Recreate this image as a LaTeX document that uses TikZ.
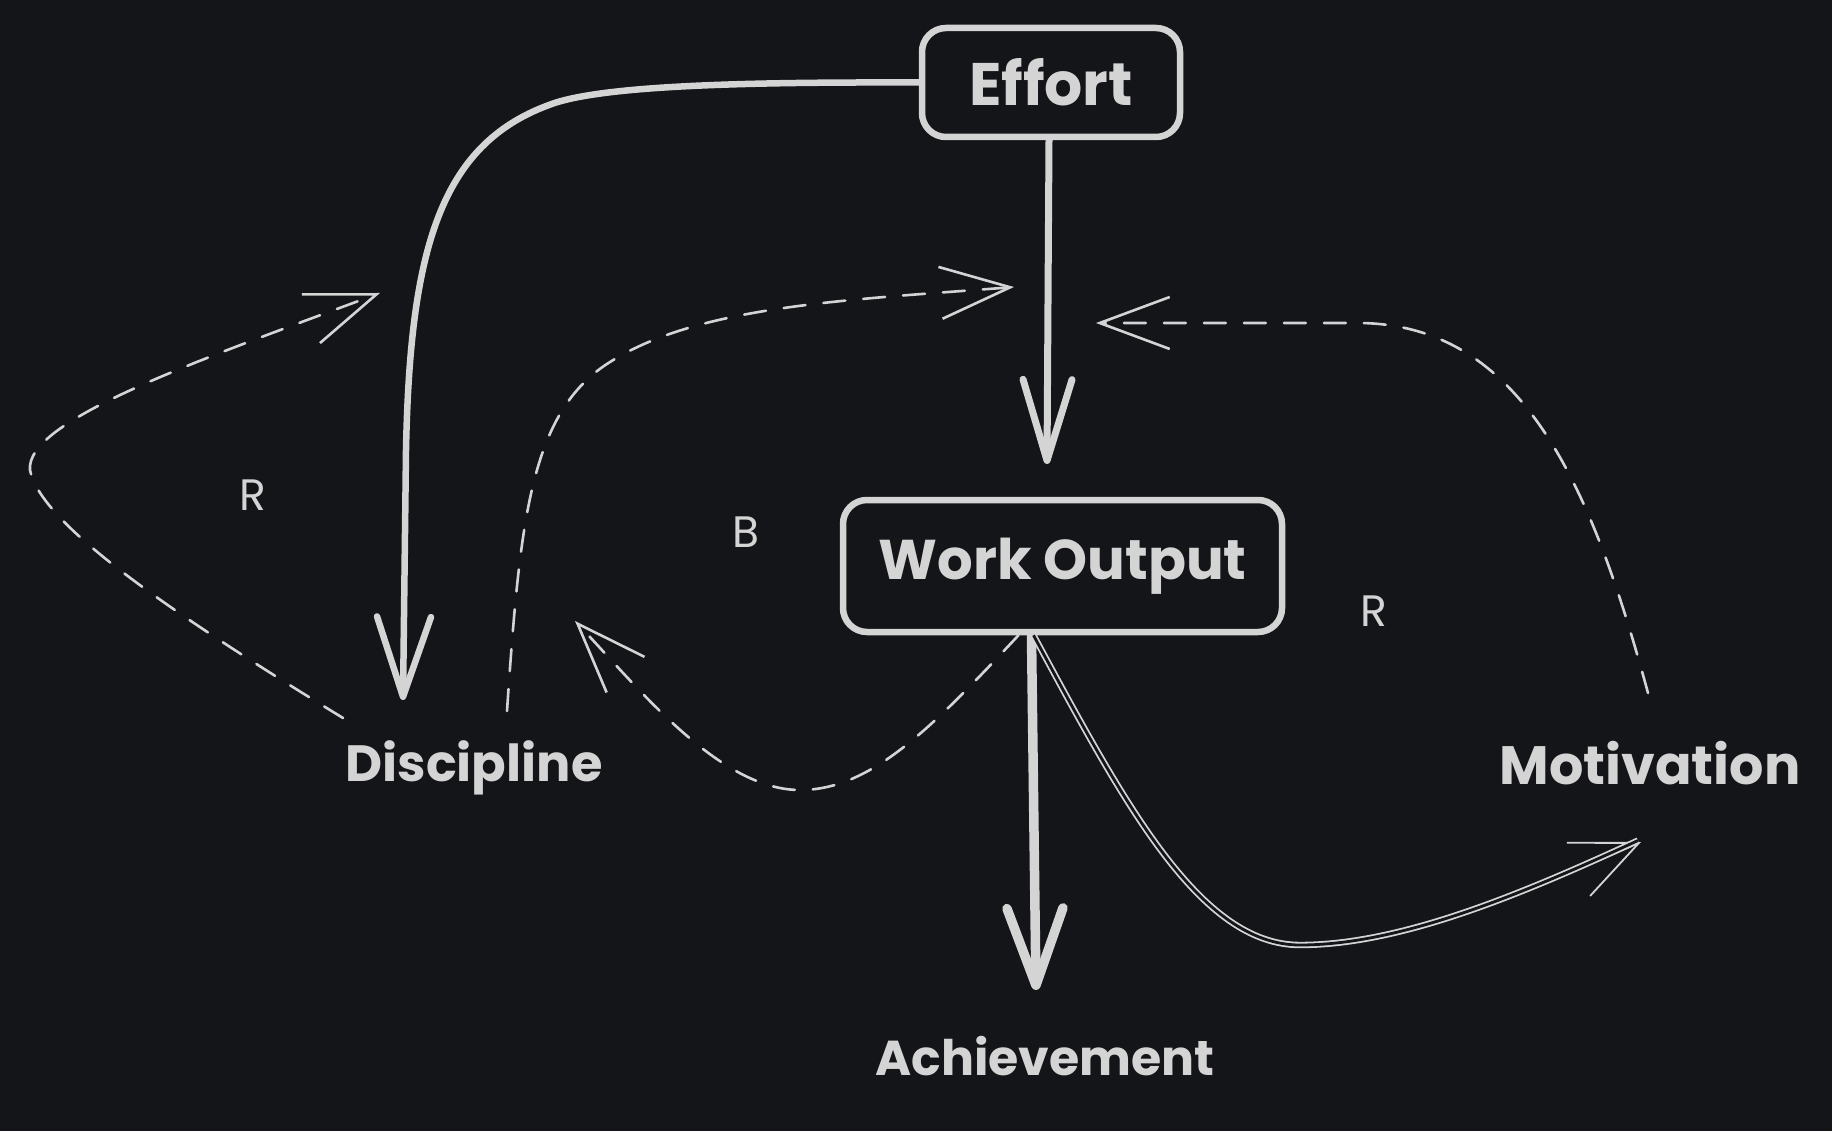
\documentclass[tikz,border=0pt]{standalone}
\usepackage{fontspec}
\setmainfont{Poppins}
\usetikzlibrary{arrows.meta}
\definecolor{bgc}{RGB}{19,21,25}
\definecolor{fgc}{RGB}{212,212,212}
\newcommand{\fsz}[1]{\fontsize{#1}{#1}\selectfont\bfseries}
\begin{document}
\begin{tikzpicture}[x=1pt,y=-1pt,
  box/.style={draw=fgc, line width=6.5pt, rounded corners=24pt, text=fgc, inner sep=0pt},
  lbl/.style={text=fgc, inner sep=0pt},
  small/.style={text=fgc, inner sep=0pt, font=\fontsize{44}{48}\selectfont},
  dashline/.style={draw=fgc, line width=2.6pt, dash pattern=on 22pt off 18pt, line cap=round},
  thinhead/.style={-{Straight Barb[length=70pt,width=52pt]}},
  solidthick/.style={draw=fgc, line width=6.5pt, line cap=round},
  dbl/.style={draw=fgc, line width=1.8pt, double=bgc, double distance=2.8pt}
]
\fill[bgc] (0,0) rectangle (1832,1131);
\useasboundingbox (0,0) rectangle (1832,1131);

% nodes
\node[box, minimum width=258pt, minimum height=109pt, font=\fsz{60}] (effort) at (1051,82.5) {Effort};
\node[box, minimum width=439pt, minimum height=132pt, font=\fsz{56}] (work) at (1062.5,566) {Work Output};
\node[lbl, font=\fsz{51}] (disc) at (474,768) {Discipline};
\node[lbl, font=\fsz{54}] (motiv) at (1650,763) {Motivation};
\node[lbl, font=\fsz{49}] (ach) at (1045,1056) {Achievement};
\node[small] (rl) at (253,495) {R};
\node[small] (bb) at (746,532) {B};
\node[small] (rr) at (1374,611) {R};

% free ends
\coordinate (dE) at (403,700);
\coordinate (woIn) at (1047,464);
\coordinate (achIn) at (1036,990);
\coordinate (motIn) at (1641,842);
\coordinate (rl1) at (343,718);
\coordinate (rl2) at (380,293);
\coordinate (b1) at (507,711);
\coordinate (b2) at (1014,287);
\coordinate (b3) at (575,621);
\coordinate (rr1) at (1648,693);
\coordinate (rr2) at (1096,323);

% Effort -> Discipline
\draw[solidthick, -{Straight Barb[length=80pt,width=54pt,round]}]
  (effort.west) .. controls (750,82) and (600,85) .. (549,105)
  .. controls (440,145) and (410,250) .. (406,450) -- (dE);
% Effort -> Work Output
\draw[solidthick, line width=7pt, -{Straight Barb[length=81pt,width=49pt,round]}]
  ([xshift=-2pt]effort.south) -- (woIn);
% Work Output -> Achievement
\draw[solidthick, line width=9.5pt, -{Straight Barb[length=77pt,width=56pt,round]}]
  ([xshift=-31pt]work.south) -- (achIn);
% Work Output -> Motivation (double line)
\draw[draw=fgc, line width=1.8pt, -{Straight Barb[length=66pt,width=58pt]}]
  ([xshift=-29pt]work.south) .. controls (1125,805) and (1200,945) .. (1300,945)
  .. controls (1400,945) and (1520,895) .. (motIn);
\draw[dbl]
  ([xshift=-29pt]work.south) .. controls (1125,805) and (1200,945) .. (1300,945)
  .. controls (1400,945) and (1520,895) .. ([xshift=-3pt,yshift=1.5pt]motIn);

% left R loop
\draw[dashline, thinhead] (rl1) .. controls (150,600) and (40,520) .. (30,470)
  .. controls (25,420) and (200,360) .. (rl2);
% B loop upper
\draw[dashline, thinhead] (b1) .. controls (520,520) and (530,412) .. (610,362)
  .. controls (700,305) and (850,300) .. (b2);
% B loop lower
\draw[dashline, thinhead] ([xshift=-44pt]work.south) .. controls (930,730) and (870,790) .. (800,790)
  .. controls (720,790) and (640,690) .. (b3);
% right R loop
\draw[dashline, thinhead] (rr1) .. controls (1590,480) and (1520,325) .. (1360,323) -- (rr2);
\end{tikzpicture}
\end{document}
